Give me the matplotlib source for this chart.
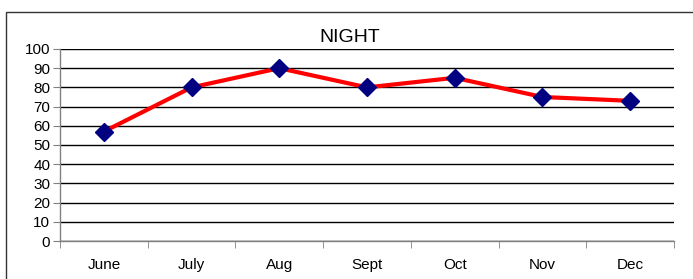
import numpy as np
import matplotlib.pyplot as plt
from matplotlib.patches import Rectangle

# Chart data
months = ['June', 'July', 'Aug', 'Sept', 'Oct', 'Nov', 'Dec']
night = [57, 80, 90, 80, 85, 75, 73]
yticks = list(range(0, 101, 10))

plt.rcParams['font.family'] = ['Liberation Sans', 'DejaVu Sans']

fig = plt.figure(figsize=(6.93, 2.79), dpi=100)
ax = fig.add_axes([0.0866, 0.1362, 0.886, 0.6882])

x = np.arange(len(months))
ax.plot(x, night, color='#ff0000', linewidth=3, zorder=3)
ax.plot(x, night, linestyle='none', marker='D', markersize=9,
        color='#000080', zorder=4)

ax.set_xlim(-0.5, len(months) - 0.5)
ax.set_ylim(0, 100)
ax.set_yticks(yticks)
ax.yaxis.grid(True, color='black', linewidth=1)
ax.set_axisbelow(True)

# category labels between tick marks
ax.set_xticks(x)
ax.set_xticklabels(months)
ax.set_xticks(np.arange(-0.5, len(months), 1), minor=True)
ax.tick_params(axis='x', which='major', length=0, pad=12, labelsize=11)
ax.tick_params(axis='x', which='minor', length=5, direction='out', color='#808080')
ax.tick_params(axis='y', length=5, direction='out', color='#808080', labelsize=11, pad=2)

for side in ['top', 'right']:
    ax.spines[side].set_visible(False)
for side in ['left', 'bottom']:
    ax.spines[side].set_color('#808080')
    ax.spines[side].set_linewidth(1)

fig.text(0.504, 0.867, 'NIGHT', ha='center', va='center', fontsize=14)

# outer chart border
fig.patches.append(Rectangle((6 / 693, -0.1), 1.1, 1 - 12 / 279 + 0.1,
                             transform=fig.transFigure, fill=False,
                             edgecolor='#333333', linewidth=1))

fig.savefig('out.png', dpi=100)
